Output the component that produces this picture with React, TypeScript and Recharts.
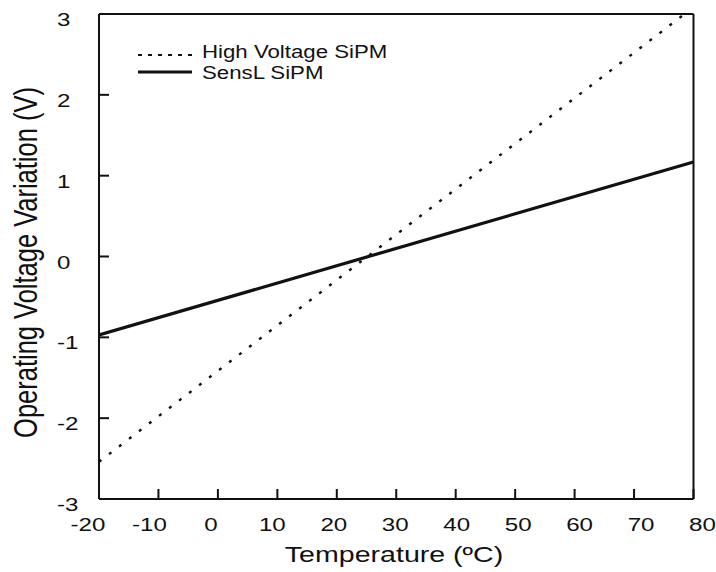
import { LineChart, Line, XAxis, YAxis } from "recharts";

// temperatures (°C) and operating voltage variation (V)
const hvTemps = [-20, 78.5];
const hvVolts = [-2.54, 3.0];
const sensTemps = [-20, 80];
const sensVolts = [-0.97, 1.17];

const xTicks = [-20, -10, 0, 10, 20, 30, 40, 50, 60, 70, 80];
const yTicks = [-3, -2, -1, 0, 1, 2, 3];
const seriesNames = ["High Voltage SiPM", "SensL SiPM"];

const FONT = '"Liberation Sans", Arial, sans-serif';
const SX = 1.27; // source image is stretched horizontally
const INK = "#111";

const hvData = hvTemps.map((t, i) => ({ t, v: hvVolts[i] }));
const sensData = sensTemps.map((t, i) => ({ t, v: sensVolts[i] }));

function SText({ x, y, size, anchor = "start", rotate = false, children }: any) {
  return (
    <text
      transform={`translate(${x} ${y}) scale(${SX} 1)${rotate ? " rotate(-90)" : ""}`}
      textAnchor={anchor}
      fontFamily={FONT}
      fontSize={size}
      fill={INK}
    >
      {children}
    </text>
  );
}

const XTick = ({ x, payload }: any) => (
  <SText x={x + (payload.value - 35) * 0.2} y={530.5} size={19} anchor="middle">
    {payload.value}
  </SText>
);

const YTick = ({ y, payload }: any) => (
  <SText x={57} y={y + 12} size={19}>
    {payload.value}
  </SText>
);

export default function App() {
  return (
    <div style={{ position: "absolute", left: 0, top: 0, width: 716, height: 572, background: "#fff" }}>
      <LineChart width={716} height={572} margin={{ top: 0, right: 0, bottom: 0, left: 0 }}>
        <XAxis
          type="number"
          dataKey="t"
          domain={[-20, 80]}
          ticks={xTicks}
          height={73}
          tickSize={-10}
          tick={XTick}
          axisLine={{ stroke: INK, strokeWidth: 2 }}
          tickLine={{ stroke: INK, strokeWidth: 2 }}
          allowDataOverflow
        />
        <XAxis
          xAxisId="top"
          orientation="top"
          type="number"
          domain={[-20, 80]}
          ticks={xTicks}
          height={14}
          tickSize={-10}
          tick={false}
          axisLine={{ stroke: INK, strokeWidth: 2 }}
          tickLine={{ stroke: INK, strokeWidth: 2 }}
          allowDataOverflow
        />
        <YAxis
          type="number"
          domain={[-3, 3]}
          ticks={yTicks}
          width={99}
          tickSize={-10}
          tick={YTick}
          axisLine={{ stroke: INK, strokeWidth: 2 }}
          tickLine={{ stroke: INK, strokeWidth: 2 }}
          allowDataOverflow
        />
        <YAxis
          yAxisId="right"
          orientation="right"
          type="number"
          domain={[-3, 3]}
          ticks={yTicks}
          width={22.5}
          tickSize={-10}
          tick={false}
          axisLine={{ stroke: INK, strokeWidth: 2 }}
          tickLine={{ stroke: INK, strokeWidth: 2 }}
          allowDataOverflow
        />
        <Line
          data={hvData}
          dataKey="v"
          name={seriesNames[0]}
          stroke={INK}
          strokeWidth={2.4}
          strokeDasharray="3 9.6"
          dot={false}
          isAnimationActive={false}
        />
        <Line
          data={sensData}
          dataKey="v"
          name={seriesNames[1]}
          stroke={INK}
          strokeWidth={3.2}
          dot={false}
          isAnimationActive={false}
        />
      </LineChart>
      <svg
        width={716}
        height={572}
        style={{ position: "absolute", left: 0, top: 0, pointerEvents: "none" }}
      >
        <line x1={138} x2={192} y1={55} y2={55} stroke={INK} strokeWidth={2} strokeDasharray="4 6" />
        <SText x={202} y={58} size={17.5}>{seriesNames[0]}</SText>
        <line x1={138} x2={192} y1={72} y2={72} stroke={INK} strokeWidth={3} />
        <SText x={202} y={79} size={17.5}>{seriesNames[1]}</SText>
        <SText x={394} y={562} size={22.5} anchor="middle">Temperature (ºC)</SText>
        <SText x={37} y={262.5} size={25.5} anchor="middle" rotate>
          Operating Voltage Variation (V)
        </SText>
      </svg>
    </div>
  );
}
